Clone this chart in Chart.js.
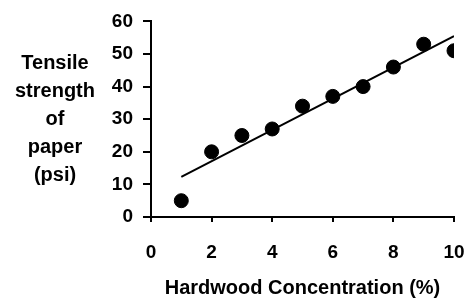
<!DOCTYPE html>
<html>
<head>
<meta charset="utf-8">
<script src="https://cdn.jsdelivr.net/npm/chart.js@4/dist/chart.umd.min.js"></script>
<style>
html,body{margin:0;padding:0;background:#fff;}
#wrap{width:467px;height:302px;}
</style>
</head>
<body>
<div id="wrap"><canvas id="c" width="467" height="302"></canvas></div>
<script>
const concentration = [1, 2, 3, 4, 5, 6, 7, 8, 9, 10];
const strength = [5, 20, 25, 27, 34, 37, 40, 46, 53, 51];
const trendX = [1, 10];
const trendY = [12.3, 55.5];
const yTitleLines = ["Tensile", "strength", "of", "paper", "(psi)"];
const xTitle = "Hardwood Concentration (%)";

const FONT = "'Liberation Sans', Arial, sans-serif";

const yTitlePlugin = {
  id: 'yTitle',
  afterDraw(chart) {
    const ctx = chart.ctx;
    ctx.save();
    ctx.font = "bold 20px " + FONT;
    ctx.fillStyle = '#000';
    ctx.textAlign = 'center';
    ctx.textBaseline = 'middle';
    const cx = 55, y0 = 63, step = 28;
    yTitleLines.forEach((t, i) => ctx.fillText(t, cx, y0 + i * step));
    ctx.restore();
  }
};

new Chart(document.getElementById('c'), {
  type: 'scatter',
  data: {
    datasets: [
      {
        label: 'Tensile strength',
        data: concentration.map((x, i) => ({x: x, y: strength[i]})),
        backgroundColor: '#000',
        borderColor: '#000',
        pointRadius: 7,
        pointHoverRadius: 7,
        showLine: false
      },
      {
        label: 'Trend',
        data: trendX.map((x, i) => ({x: x, y: trendY[i]})),
        showLine: true,
        borderColor: '#000',
        borderWidth: 2,
        pointRadius: 0,
        fill: false
      }
    ]
  },
  options: {
    responsive: false,
    animation: false,
    devicePixelRatio: 1,
    layout: {padding: {top: 21, right: 13, left: 0, bottom: 0}},
    plugins: {legend: {display: false}, tooltip: {enabled: false}},
    scales: {
      x: {
        type: 'linear',
        min: 0, max: 10,
        ticks: {stepSize: 2, color: '#000', font: {family: FONT, size: 19, weight: 'bold'}, padding: 19, maxRotation: 0},
        grid: {drawOnChartArea: false, drawTicks: true, tickLength: 5, color: '#000', lineWidth: 2},
        border: {display: true, color: '#000', width: 2},
        title: {display: true, text: xTitle, color: '#000', font: {family: FONT, size: 20, weight: 'bold'}, padding: {top: 0, bottom: 2}},
        afterFit(scale) { scale.height = 85; scale.paddingRight = 0; scale.paddingLeft = 0; }
      },
      y: {
        type: 'linear',
        min: 0, max: 60,
        ticks: {stepSize: 10, color: '#000', font: {family: FONT, size: 19, weight: 'bold'}, padding: 10},
        grid: {drawOnChartArea: false, drawTicks: true, tickLength: 8, color: '#000', lineWidth: 2},
        border: {display: true, color: '#000', width: 2},
        afterFit(scale) { scale.width = 151; }
      }
    }
  },
  plugins: [yTitlePlugin]
});
</script>
</body>
</html>
